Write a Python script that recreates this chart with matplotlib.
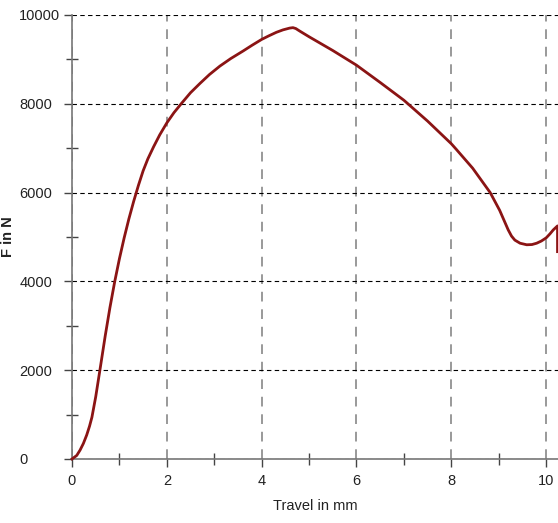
import matplotlib
matplotlib.use("Agg")
import matplotlib.pyplot as plt
from matplotlib.ticker import MultipleLocator

# Werte
travel = [0, 0.1, 0.17, 0.24, 0.31, 0.37, 0.42, 0.5, 0.6, 0.7, 0.8, 0.9,
          1.0, 1.1, 1.2, 1.3, 1.4, 1.5, 1.6, 1.72, 1.85, 2.0, 2.15, 2.31,
          2.5, 2.7, 2.9, 3.12, 3.35, 3.61, 3.8, 4.0, 4.15, 4.31, 4.45, 4.59,
          4.66, 4.72, 4.8, 5.0, 5.5, 6.0, 6.5, 7.0, 7.5, 8.0, 8.1, 8.45,
          8.82, 9.02, 9.2, 9.27, 9.34, 9.45, 9.59, 9.7, 9.8, 9.9, 10.0,
          10.08, 10.15, 10.24, 10.24]
force = [0, 80, 200, 350, 540, 740, 940, 1400, 2080, 2770, 3410, 3990,
         4510, 4980, 5410, 5800, 6160, 6490, 6760, 7030, 7300, 7570, 7800, 8010,
         8250, 8460, 8660, 8850, 9020, 9190, 9320, 9450, 9530, 9610, 9665, 9705,
         9715, 9695, 9640, 9510, 9200, 8870, 8480, 8080, 7610, 7100, 6980, 6550,
         6000, 5600, 5160, 5020, 4930, 4860, 4825, 4830, 4860, 4910, 4980,
         5070, 5160, 5250, 4670]

x_ticks = [0, 2, 4, 6, 8, 10]
y_ticks = [0, 2000, 4000, 6000, 8000, 10000]

plt.rcParams["font.family"] = ["Liberation Sans", "DejaVu Sans"]

fig = plt.figure(figsize=(5.58, 5.23), dpi=100)
ax = fig.add_axes([72 / 558, 64 / 523, 1 - 72 / 558, 444 / 523])

ax.plot(travel, force, color="#8b1414", linewidth=2, clip_on=False,
        solid_joinstyle="round", zorder=3)

ax.set_xlim(0, 10.25)
ax.set_ylim(0, 10000)
ax.set_xticks(x_ticks)
ax.set_yticks(y_ticks)
ax.xaxis.set_minor_locator(MultipleLocator(1))
ax.yaxis.set_minor_locator(MultipleLocator(1000))

# Gitter: horizontal schwarz, vertikal grau
ax.grid(axis="y", which="major", color="black", linestyle=(0, (4, 3)), linewidth=0.8)
ax.grid(axis="x", which="major", color="#999999", linestyle=(0, (5, 4)), linewidth=1.4)

for side in ["top", "right"]:
    ax.spines[side].set_visible(False)
for side in ["left", "bottom"]:
    ax.spines[side].set_color("#777777")
    ax.spines[side].set_linewidth(1.2)

ax.tick_params(which="major", direction="out", length=6, width=1,
               color="#444444", labelsize=10.5, labelcolor="#222222")
ax.tick_params(which="minor", direction="inout", length=9, width=1, color="#444444")
ax.tick_params(axis="y", which="major", pad=32)
ax.tick_params(axis="x", which="major", pad=5)
for label in ax.get_yticklabels():
    label.set_horizontalalignment("left")

ax.set_xlabel("Travel in mm", fontsize=10.5, color="#222222", labelpad=8)
ax.set_ylabel("F in N", fontsize=10.5, color="#222222", fontweight="bold")
ax.yaxis.set_label_coords(-57 / 486, 0.5)

fig.savefig("out.png", dpi=100)
